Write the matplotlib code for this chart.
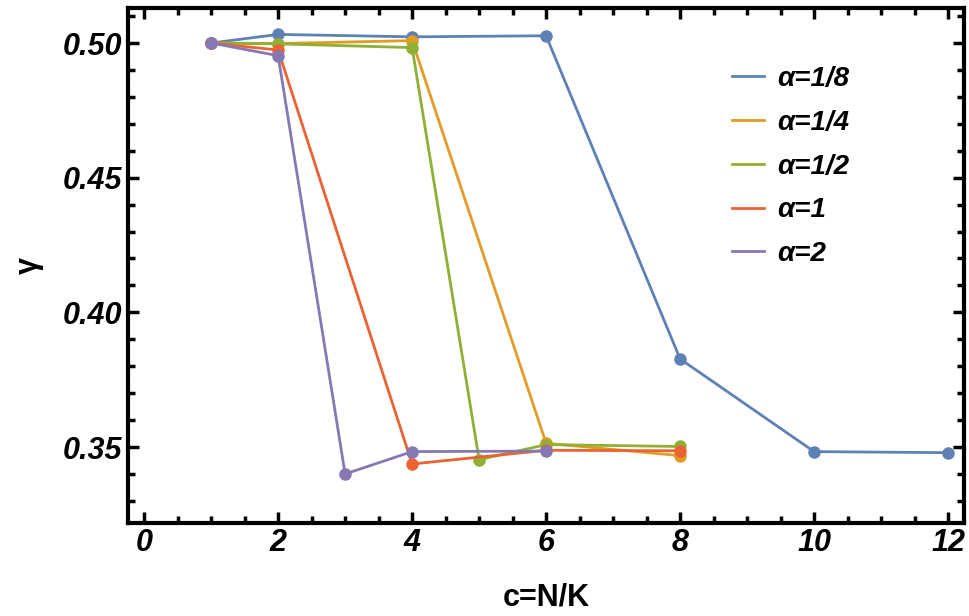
import matplotlib
matplotlib.use("Agg")
import matplotlib.pyplot as plt
from matplotlib.ticker import MultipleLocator

plt.rcParams['font.family'] = ['Liberation Sans', 'DejaVu Sans']

# values
c_18 = [1, 2, 4, 6, 8, 10, 12]
y_18 = [0.5000, 0.5032, 0.5023, 0.5027, 0.3827, 0.3483, 0.3479]
c_14 = [1, 2, 4, 6, 8]
y_14 = [0.5000, 0.4998, 0.5009, 0.3514, 0.3468]
c_12 = [1, 2, 4, 5, 6, 8]
y_12 = [0.5000, 0.4997, 0.4983, 0.3453, 0.3509, 0.3502]
c_1 = [1, 2, 4, 6, 8]
y_1 = [0.5000, 0.4974, 0.3437, 0.3488, 0.3486]
c_2 = [1, 2, 3, 4, 6]
y_2 = [0.5000, 0.4953, 0.3400, 0.3483, 0.3485]

labels = ['α=1/8', 'α=1/4', 'α=1/2', 'α=1', 'α=2']
colors = ['#5E81B5', '#E19C24', '#8FB032', '#EB6235', '#8778B3']

fig = plt.figure(figsize=(9.7, 6.16), dpi=100)
ax = fig.add_axes([0.132, 0.151, 0.862, 0.836])

series = [(c_18, y_18), (c_14, y_14), (c_12, y_12), (c_1, y_1), (c_2, y_2)]
for (xs, ys), lab, col in zip(series, labels, colors):
    ax.plot(xs, ys, '-', color=col, lw=2, label=lab)
    ax.plot(xs, ys, 'o', color=col, ms=8)

ax.set_xlim(-0.24, 12.24)
ax.set_ylim(0.3218, 0.513)

ax.xaxis.set_major_locator(MultipleLocator(2))
ax.xaxis.set_minor_locator(MultipleLocator(0.5))
ax.yaxis.set_major_locator(MultipleLocator(0.05))
ax.yaxis.set_minor_locator(MultipleLocator(0.01))
ax.yaxis.set_major_formatter(plt.FormatStrFormatter('%.2f'))

ax.tick_params(which='both', direction='in', top=True, right=True, width=2.5, color='black')
ax.tick_params(which='major', length=8)
ax.tick_params(which='minor', length=5)
ax.tick_params(axis='y', pad=4)
for lbl in ax.get_xticklabels() + ax.get_yticklabels():
    lbl.set_fontweight('bold')
    lbl.set_fontstyle('italic')
    lbl.set_fontsize(22)
for sp in ax.spines.values():
    sp.set_linewidth(3)

ax.set_xlabel('c=N/K', fontsize=22, fontweight='bold', labelpad=18)
ax.set_ylabel('γ', fontsize=22, fontweight='bold', labelpad=14)

leg = ax.legend(loc='upper left', bbox_to_anchor=(0.693, 0.936), frameon=False,
                prop={'size': 20, 'weight': 'bold', 'style': 'italic'},
                handlelength=1.15, handletextpad=0.45, labelspacing=0.64)
for line in leg.get_lines():
    line.set_linewidth(2)

fig.savefig('out.png', dpi=100)
